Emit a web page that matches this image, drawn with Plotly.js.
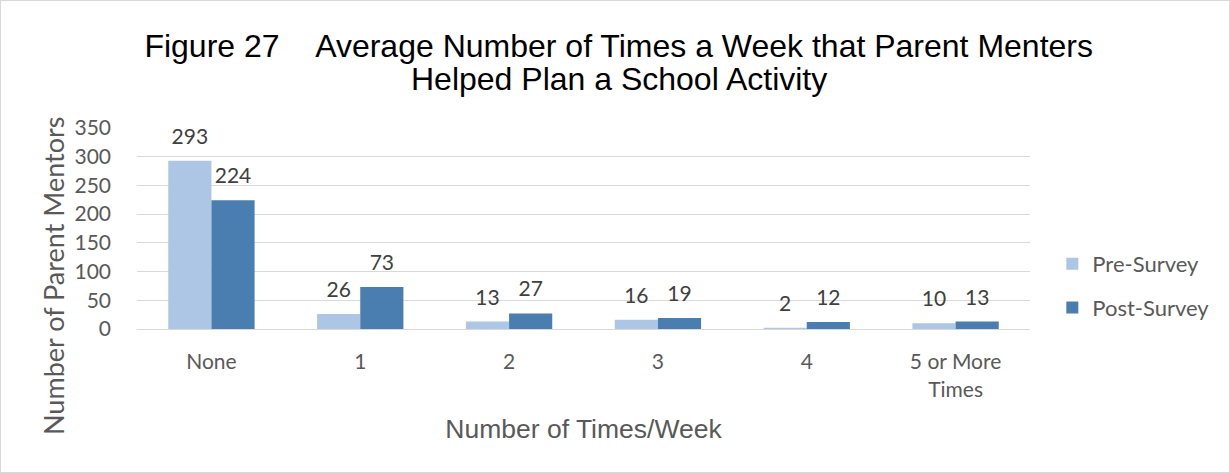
<!DOCTYPE html>
<html><head><meta charset="utf-8">
<script src="https://cdn.plot.ly/plotly-3.0.1.min.js"></script>
<style>body{margin:0;background:#fff}#c{width:1228px;height:471px;border:1px solid #d9d9d9}</style>
</head><body><div id="c"></div>
<script>
const categories = ["None", "1", "2", "3", "4", "5 or More<br>Times"];
const preSurvey = [293, 26, 13, 16, 2, 10];
const postSurvey = [224, 73, 27, 19, 12, 13];
const yTicks = [0, 50, 100, 150, 200, 250, 300, 350];
const titleLines = ["Figure 27\u00a0\u00a0\u00a0\u00a0Average Number of Times a Week that Parent Menters", "Helped Plan a School Activity"];
const yTitle = "Number of Parent Mentors";
const xTitle = "Number of Times/Week";

const lab = {family: "Lato, 'Open Sans', sans-serif", size: 21, color: "#404040"};
const titleFont = {family: "'Liberation Sans', Arial, sans-serif", size: 32, color: "#000"};
const traces = [
  {type: "bar", name: "Pre-Survey", x: categories, y: preSurvey, marker: {color: "#aec6e6"},
   text: preSurvey.map(String), textposition: "outside", textfont: lab, cliponaxis: false, legendgroup: "a"},
  {type: "bar", name: "Post-Survey", x: categories, y: postSurvey, marker: {color: "#4a7eb0"},
   text: postSurvey.map(String), textposition: "outside", textfont: lab, cliponaxis: false, legendgroup: "b"}
];
const layout = {
  width: 1228, height: 471,
  margin: {l: 136, r: 199, t: 127, b: 143},
  paper_bgcolor: "#fff", plot_bgcolor: "#fff",
  barmode: "group", bargap: 0.42, bargroupgap: 0,
  title: {text: titleLines[0], font: titleFont, x: 0.503, xanchor: "center", xref: "container",
          y: 1 - 45 / 471, yanchor: "middle", yref: "container"},
  annotations: [
    {text: titleLines[1], font: titleFont, xref: "paper", yref: "paper",
     x: (618 - 136) / 893, y: 1 + (127 - 78) / 201, xanchor: "center", yanchor: "middle", showarrow: false},
    {text: yTitle, font: {family: "Lato, sans-serif", size: 27, color: "#595959"}, textangle: -90,
     xref: "paper", yref: "paper", x: (52 - 136) / 893, y: 1 - (275 - 127) / 201,
     xanchor: "center", yanchor: "middle", showarrow: false}
  ],
  xaxis: {type: "category", tickfont: {family: "Lato, sans-serif", size: 21, color: "#595959"},
          showline: true, linecolor: "#d9d9d9", linewidth: 1, ticks: "", ticklabelstandoff: 14,
          title: {text: xTitle, font: {family: "'Liberation Sans', Arial, sans-serif", size: 26.5, color: "#595959"}, standoff: 19}},
  yaxis: {range: [0, 350], tickvals: yTicks, ticktext: yTicks.map(String), showgrid: true, gridcolor: "#d9d9d9",
          zeroline: false, showline: false, tickfont: {family: "Lato, sans-serif", size: 21, color: "#595959"}, ticklabelstandoff: 25},
  legend: {x: 1.025, xanchor: "left", y: 0.214, yanchor: "middle", font: {family: "Lato, sans-serif", size: 22, color: "#595959"},
           traceorder: "grouped", tracegroupgap: 12, itemwidth: 30},
  showlegend: true
};
Plotly.newPlot("c", traces, layout, {displayModeBar: false, staticPlot: true}).then(function (gd) {
  // nudge data labels a little further above their bars, as in the original
  gd.querySelectorAll(".bartext").forEach(function (t) {
    const tr = t.getAttribute("transform") || "";
    t.setAttribute("transform", "translate(0,-10) " + tr);
  });
});
</script></body></html>
